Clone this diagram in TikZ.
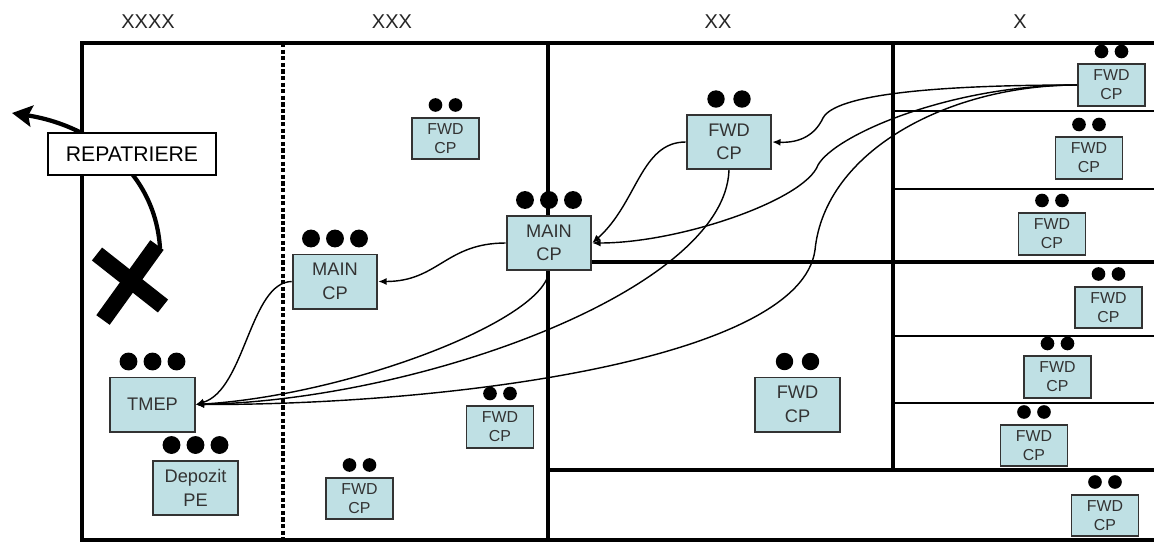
\documentclass[tikz,border=0pt]{standalone}
\usepackage{fontspec}
\setmainfont{Liberation Sans}
\usepackage{tikz}
\usetikzlibrary{arrows.meta}
\definecolor{cpblue}{HTML}{BFE0E4}

\begin{document}
\begin{tikzpicture}[x=0.85pt, y=-0.85pt,
  bigcp/.style={draw=black!80, line width=1.6pt, fill=cpblue, minimum width=72pt, minimum height=46pt, inner sep=0pt, align=center, text=black!80, font=\fontsize{15.5pt}{20pt}\selectfont},
  smallcp/.style={bigcp, minimum width=57pt, minimum height=35pt, font=\fontsize{13.5pt}{16pt}\selectfont},
  wall/.style={line width=3.4pt},
  lane/.style={line width=1.3pt},
  flow/.style={line width=1.2pt, -{Latex[length=7pt,width=6pt]}},
  col/.style={font=\fontsize{17pt}{17pt}\selectfont, text=black!85}
]
  \useasboundingbox (0,0) rectangle (1154,544);

  % column titles
  \node[col] (zone4) at (148,22) {XXXX};
  \node[col] (zone3) at (392,22) {XXX};
  \node[col] (zone2) at (718,22) {XX};
  \node[col] (zone1) at (1020,22) {X};

  % frame and sectors
  \draw[wall] (1154,43) -- (82,43) -- (82,540) -- (1154,540);
  \draw[wall, line width=3.8pt, dash pattern=on 3.6pt off 2pt] (283,43) -- (283,540);
  \draw[wall] (548,43) -- (548,540);
  \draw[wall] (893,43) -- (893,470);
  \draw[wall] (548,262) -- (1154,262);
  \draw[wall] (548,470) -- (1154,470);
  \draw[lane] (893,111) -- (1154,111);
  \draw[lane] (893,189) -- (1154,189);
  \draw[lane] (893,336) -- (1154,336);
  \draw[lane, line width=2.2pt] (893,403) -- (1154,403);

  % repatriere
  \coordinate (xtop) at (160,248);
  \coordinate (away) at (12,113);
  \draw[line width=3.6pt, -{Stealth[length=17pt,width=18pt,inset=3pt]}] (xtop) .. controls (155,170) and (90,125) .. (away);
  \node[draw, line width=1.4pt, fill=white, minimum width=143pt, minimum height=36pt, font=\fontsize{18pt}{18pt}\selectfont] (repat) at (132,154) {REPATRIERE};
  \draw[line width=14pt] (97,254) -- (163,306);
  \draw[line width=14pt] (103,320) -- (157,245);

  % command posts
  \node[bigcp] (tmep) at (152.5,404.5) {TMEP};
  \node[bigcp] (depo) at (195.5,488) {Depozit\\PE};
  \node[bigcp] (mainL) at (335,281.5) {MAIN\\CP};
  \node[bigcp] (mainC) at (549,243) {MAIN\\CP};
  \node[bigcp] (fwdB) at (729,142) {FWD\\CP};
  \node[bigcp] (fwdM) at (797.5,404.5) {FWD\\CP};
  \node[smallcp] (fwdP1) at (445.5,138.5) {FWD\\CP};
  \node[smallcp] (fwdP2) at (500,427) {FWD\\CP};
  \node[smallcp] (fwdP3) at (359.5,498.5) {FWD\\CP};
  \node[smallcp] (fwdX1) at (1111.5,85) {FWD\\CP};
  \node[smallcp] (fwdX2) at (1089,158) {FWD\\CP};
  \node[smallcp] (fwdX3) at (1052,234) {FWD\\CP};
  \node[smallcp] (fwdX4) at (1108.5,307.5) {FWD\\CP};
  \node[smallcp] (fwdX5) at (1057.5,377) {FWD\\CP};
  \node[smallcp] (fwdX6) at (1034,445.5) {FWD\\CP};
  \node[smallcp] (fwdX7) at (1105,515.5) {FWD\\CP};

  % echelon dots
  \foreach \n in {tmep,depo,mainL,mainC}
    \foreach \dx in {-24,0,24}
      \fill ([shift={(\dx,-15)}]\n.north) circle (7.6pt);
  \foreach \n in {fwdB,fwdM}
    \foreach \dx in {-13,13}
      \fill ([shift={(\dx,-15)}]\n.north) circle (7.4pt);
  \foreach \n in {fwdP1,fwdP2,fwdP3,fwdX1,fwdX2,fwdX3,fwdX4,fwdX5,fwdX6,fwdX7}
    \foreach \dx in {-10,10}
      \fill ([shift={(\dx,-12)}]\n.north) circle (5.8pt);

  % flows
  \draw[flow] (mainL.west) .. controls (250,282) and (245,390) .. (tmep.east);
  \draw[flow] (mainC.west) .. controls +(-60,0) and +(60,0) .. (mainL.east);
  \draw[flow] (fwdB.west) .. controls +(-45,0) and +(45,-40) .. (mainC.east);
  \draw[flow] (fwdB.south) .. controls (725,290) and (420,400) .. (tmep.east);
  \draw[flow] (mainC.south) .. controls (545,320) and (350,395) .. (tmep.east);
  \draw[flow] (fwdX1.west) .. controls (930,85) and (835,95) .. (823,118) .. controls (815,135) and (800,143) .. (fwdB.east);
  \draw[flow] (fwdX1.west) .. controls (950,85) and (835,135) .. (818,165) .. controls (805,200) and (680,243) .. (mainC.east);
  \draw[flow] (fwdX1.west) .. controls (950,85) and (825,150) .. (815,250) .. controls (800,360) and (450,405) .. (tmep.east);
\end{tikzpicture}
\end{document}
